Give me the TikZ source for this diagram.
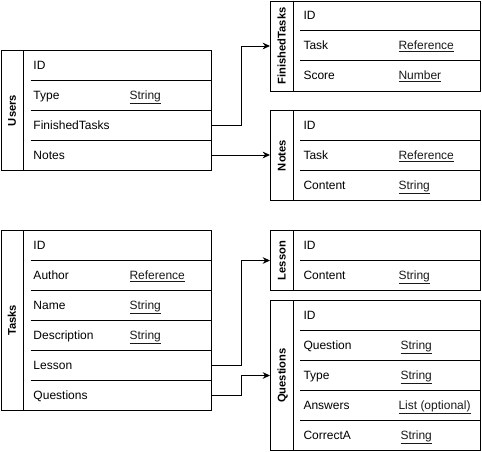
\documentclass[tikz,border=0pt]{standalone}
\usepackage{fontspec}
\setmainfont{Liberation Sans}
\usetikzlibrary{positioning,arrows.meta}

\tikzset{
  entity/.style={draw, anchor=north west, minimum width=157.5pt, inner sep=0pt},
  entitytitle/.style={font=\fontsize{8.4pt}{10pt}\selectfont\bfseries, rotate=90, inner sep=0pt, text height=6pt, text depth=0pt},
  field/.style={anchor=west, inner sep=0pt, text height=6.45pt, text depth=0pt},
  fieldtype/.style={field, text=black!90},
  link/.style={-{Stealth[length=5.5pt,width=5pt]}},
}

% name, title, top left corner, number of rows
\newcommand{\entitybox}[4]{%
  \node[entity, minimum height=#4*22.5pt] (#1) at #3 {};
  \draw ([xshift=17.25pt]#1.north west) -- ([xshift=17.25pt]#1.south west);
  \node[entitytitle] (#1-title) at ([xshift=8.625pt]#1.west) {#2};
  \foreach \r in {2,...,#4}
    \draw ([xshift=22.5pt,yshift=-(\r-1)*22.5pt]#1.north west) -- ([yshift=-(\r-1)*22.5pt]#1.north east);
}

\begin{document}
\begin{tikzpicture}[x=0.75pt, y=-0.75pt, line width=0.75pt, font=\fontsize{9pt}{11pt}\selectfont]
\useasboundingbox (0,0) rectangle (482,451);

% tables
\entitybox{users}{Users}{(0.5,50)}{4}
\entitybox{tasks}{Tasks}{(0.5,230)}{6}
\entitybox{finished}{FinishedTasks}{(270,0.5)}{3}
\entitybox{notes}{Notes}{(270,110)}{3}
\entitybox{lesson}{Lesson}{(270,230)}{2}
\entitybox{questions}{Questions}{(270,300)}{5}

% Users
\node[field] (users-id) at (33,65) {ID};
\node[field] (users-type) at (33,95) {Type};
\node[fieldtype] (users-type-t) at (129,95) {\underline{String}};
\node[field] (users-ft) at (33,125) {FinishedTasks};
\node[field] (users-notes) at (33,155) {Notes};

% Tasks
\node[field] (tasks-id) at (33,245) {ID};
\node[field] (tasks-author) at (33,275) {Author};
\node[fieldtype] (tasks-author-t) at (129,275) {\underline{Reference}};
\node[field] (tasks-name) at (33,305) {Name};
\node[fieldtype] (tasks-name-t) at (129,305) {\underline{String}};
\node[field] (tasks-desc) at (33,335) {Description};
\node[fieldtype] (tasks-desc-t) at (129,335) {\underline{String}};
\node[field] (tasks-lesson) at (33,365) {Lesson};
\node[field] (tasks-questions) at (33,395) {Questions};

% FinishedTasks
\node[field] (finished-id) at (303,15) {ID};
\node[field] (finished-task) at (303,45) {Task};
\node[fieldtype] (finished-task-t) at (398,45) {\underline{Reference}};
\node[field] (finished-score) at (303,75) {Score};
\node[fieldtype] (finished-score-t) at (398,75) {\underline{Number}};

% Notes
\node[field] (notes-id) at (303,125) {ID};
\node[field] (notes-task) at (303,155) {Task};
\node[fieldtype] (notes-task-t) at (398,155) {\underline{Reference}};
\node[field] (notes-content) at (303,185) {Content};
\node[fieldtype] (notes-content-t) at (398,185) {\underline{String}};

% Lesson
\node[field] (lesson-id) at (303,245) {ID};
\node[field] (lesson-content) at (303,275) {Content};
\node[fieldtype] (lesson-content-t) at (398,275) {\underline{String}};

% Questions
\node[field] (questions-id) at (303,315) {ID};
\node[field] (questions-question) at (303,345) {Question};
\node[fieldtype] (questions-question-t) at (400,345) {\underline{String}};
\node[field] (questions-type) at (303,375) {Type};
\node[fieldtype] (questions-type-t) at (400,375) {\underline{String}};
\node[field] (questions-answers) at (303,405) {Answers};
\node[fieldtype] (questions-answers-t) at (398,405) {\underline{List (optional)}};
\node[field] (questions-correct) at (303,435) {CorrectA};
\node[fieldtype] (questions-correct-t) at (400,435) {\underline{String}};

% links
\draw[link] (users.east |- users-ft) -- ++(30,0) |- (finished.west);
\draw[link] (users.east |- users-notes) -- (notes.west |- users-notes);
\draw[link] (tasks.east |- tasks-lesson) -- ++(30,0) |- (lesson.west);
\draw[link] (tasks.east |- tasks-questions) -- ++(30,0) |- (questions.west);
\end{tikzpicture}
\end{document}
